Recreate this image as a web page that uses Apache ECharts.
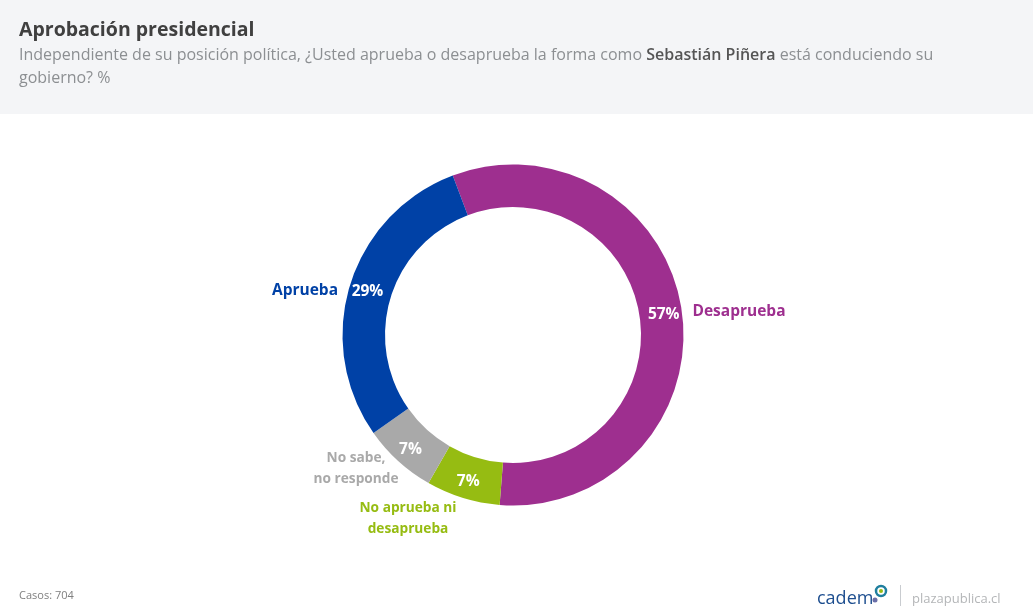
<!DOCTYPE html>
<html><head><meta charset="utf-8">
<style>html,body{margin:0;padding:0;background:#fff}#c{width:1033px;height:615px}</style>
<script src="https://cdn.jsdelivr.net/npm/echarts@6/dist/echarts.min.js"></script>
</head><body><div id="c"></div>
<script>
const categories = ['Desaprueba', 'No aprueba ni\ndesaprueba', 'No sabe,\nno responde', 'Aprueba'];
const values = [57, 7, 7, 29];
const colors = ['#9E2F8F', '#96BC12', '#A9A9A9', '#0041A6'];
const titleText = 'Aprobación presidencial';
const footnote = 'Casos: 704';
const brand = 'plazapublica.cl';
const font = '"Open Sans", sans-serif';

const chart = echarts.init(document.getElementById('c'), null, {renderer: 'canvas'});
const base = {
  type: 'pie', center: [513, 335], radius: [128, 170.5], startAngle: 110.7,
  clockwise: true, silent: true, animation: false, avoidLabelOverlap: false,
  itemStyle: {borderWidth: 0}, emphasis: {disabled: true}
};
const labelSize = [15.5, 13.7, 13.7, 15.5];
chart.setOption({
  backgroundColor: '#fff',
  color: colors,
  graphic: [
    {type: 'rect', z: -1, shape: {x: 0, y: 0, width: 1033, height: 114}, style: {fill: '#F4F5F7'}},
    {type: 'rect', shape: {x: 900, y: 585, width: 1, height: 21}, style: {fill: '#C9CCD0'}},
    {type: 'text', x: 817, y: 590, style: {text: 'cadem', fill: '#1D4E8F', font: '400 18px ' + font}},
    {type: 'circle', shape: {cx: 881, cy: 591, r: 5}, style: {fill: '#fff', stroke: '#1F7F9E', lineWidth: 2.5}},
    {type: 'circle', shape: {cx: 881, cy: 591, r: 2}, style: {fill: '#96BC12'}},
    {type: 'circle', shape: {cx: 875, cy: 600, r: 2.5}, style: {fill: '#6B6FA8'}}
  ],
  title: [
    {text: titleText, left: 19, top: 20, padding: 0,
     textStyle: {fontFamily: font, fontSize: 19.5, fontWeight: 700, color: '#404040'}},
    {text: '{n|Independiente de su posición política, ¿Usted aprueba o desaprueba la forma como }{b|Sebastián Piñera}{n| está conduciendo su}\n{n|gobierno? %}',
     left: 19, top: 44, padding: 0,
     textStyle: {fontFamily: font, fontSize: 16, fontWeight: 400, color: '#8C8F92', lineHeight: 23,
       rich: {n: {fontFamily: font, fontSize: 16, fontWeight: 400, color: '#8C8F92', lineHeight: 23},
              b: {fontFamily: font, fontSize: 16, fontWeight: 600, color: '#555', lineHeight: 23}}}},
    {text: footnote, left: 19, top: 590, padding: 0,
     textStyle: {fontFamily: font, fontSize: 11, fontWeight: 400, color: '#7F7F7F'}},
    {text: brand, left: 912, top: 593, padding: 0,
     textStyle: {fontFamily: font, fontSize: 13, fontWeight: 400, color: '#B4B6B8'}}
  ],
  series: [
    Object.assign({}, base, {
      data: categories.map((n, i) => ({name: n, value: values[i]})),
      label: {show: true, position: 'inside', formatter: p => p.value + '%',
        fontFamily: font, fontSize: 15.5, fontWeight: 700, color: '#fff'},
      labelLine: {show: false},
      labelLayout: () => ({dy: 1.5}), z: 3
    }),
    Object.assign({}, base, {
      data: categories.map((n, i) => ({name: n, value: values[i],
        itemStyle: {color: 'transparent'},
        label: {color: colors[i], fontSize: labelSize[i]}})),
      label: {show: true, position: 'outside', formatter: p => p.name, align: 'center',
        fontFamily: font, fontWeight: 700, lineHeight: 21},
      labelLine: {show: false, length: 0, length2: 0},
      labelLayout: p => {
        const t = {0: [739, 312], 1: [408, 519], 2: [356, 469], 3: [305, 291]}[p.dataIndex];
        return {x: t[0], y: t[1], align: 'center', verticalAlign: 'middle'};
      }, z: 4
    })
  ]
});
</script></body></html>
